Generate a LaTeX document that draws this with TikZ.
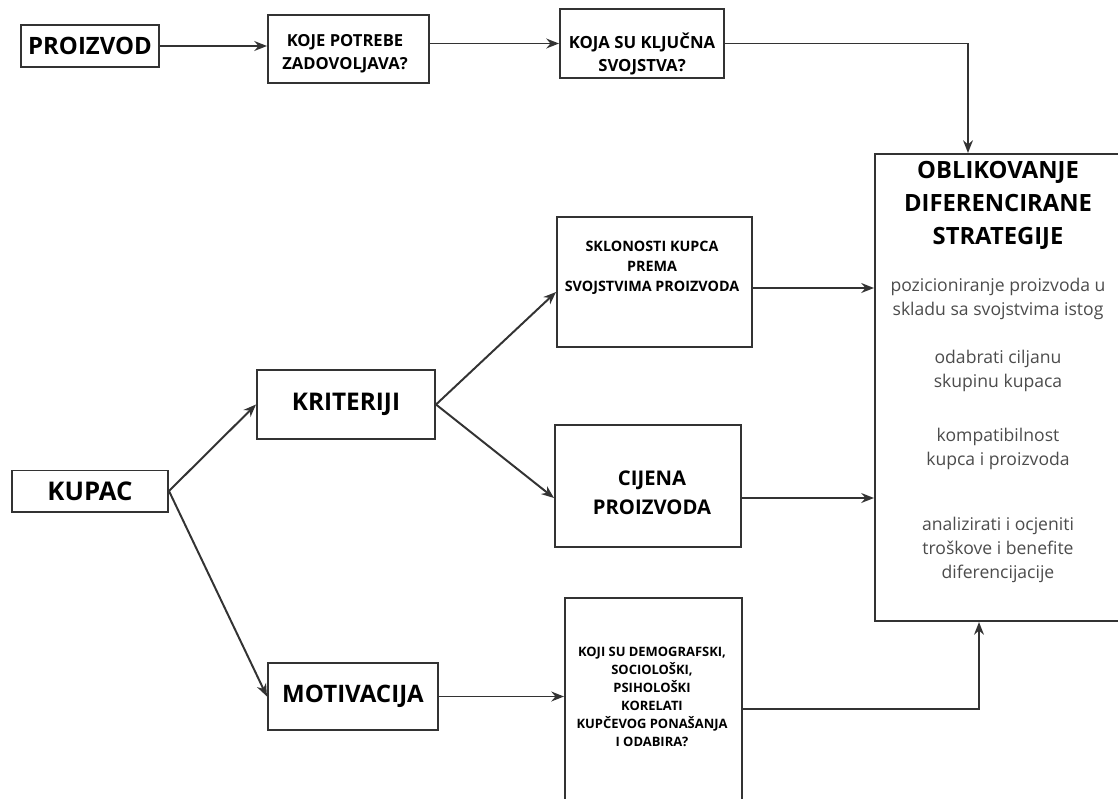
\documentclass[tikz,border=0pt]{standalone}
\usepackage{fontspec}
\setmainfont{Open Sans}
\usetikzlibrary{arrows.meta}

\tikzset{
  box/.style={draw=black!80, line width=1.4pt, fill=white, inner sep=0pt, align=center},
  hdr/.style={font=\bfseries, align=center, inner sep=0pt},
  txt/.style={font=\fontsize{12.5}{17}\selectfont, text=black!70, align=center, inner sep=0pt},
  link/.style={draw=black!80, line width=1.4pt, -{Stealth[length=9pt,width=7pt]}},
}

\begin{document}
\begin{tikzpicture}[x=0.025cm, y=-0.025cm]
    \useasboundingbox (0,0) rectangle (1118,798);
    \clip (0,0) rectangle (1118,798);
    % Boxes
    \node[box, hdr, minimum width=3.45cm, minimum height=1.05cm,
          font=\fontsize{17}{20}\selectfont\bfseries] (proizvod) at (90,46) {PROIZVOD};
    \node[box, minimum width=4.025cm, minimum height=1.7cm] (potrebe) at (348.5,49) {};
    \node[box, minimum width=4.1cm, minimum height=1.725cm] (svojstva) at (642,43.5) {};
    \node[box, minimum width=6.3cm, minimum height=11.675cm] (oblik) at (1001,387.5) {};
    \node[box, minimum width=4.875cm, minimum height=3.25cm] (sklonost) at (654.5,282) {};
    \node[box, minimum width=4.65cm, minimum height=3.05cm] (cijena) at (648,486) {};
    \node[box, minimum width=4.425cm, minimum height=5.1cm] (korelati) at (653.5,700) {};
    \node[box, hdr, minimum width=4.45cm, minimum height=1.725cm,
          font=\fontsize{17.3}{20}\selectfont\bfseries] (kriteriji) at (346,404.5) {KRITERIJI};
    \node[box, hdr, minimum width=3.9cm, minimum height=1.025cm,
          font=\fontsize{18.3}{20}\selectfont\bfseries] (kupac) at (90,491) {KUPAC};
    \node[box, hdr, minimum width=4.25cm, minimum height=1.675cm,
          font=\fontsize{17.1}{20}\selectfont\bfseries] (motivacija) at (353,696.5) {MOTIVACIJA};
    % Texts
    \node[hdr, font=\fontsize{11.8}{16.4}\selectfont\bfseries] (potrebetxt) at (345,53.5) {KOJE POTREBE\\ZADOVOLJAVA?};
    \node[hdr, font=\fontsize{11.9}{16.4}\selectfont\bfseries] (svojstvatxt) at (642,53.5) {KOJA SU KLJUČNA\\SVOJSTVA?};
    \node[hdr, font=\fontsize{10.2}{14.2}\selectfont\bfseries] (sklonosttxt) at (652,268) {SKLONOSTI KUPCA\\PREMA\\SVOJSTVIMA PROIZVODA};
    \node[hdr, font=\fontsize{14.4}{20.6}\selectfont\bfseries] (cijenatxt) at (652,492.5) {CIJENA\\PROIZVODA};
    \node[hdr, font=\fontsize{9.2}{12.8}\selectfont\bfseries] (korelatitxt) at (652,697) {KOJI SU DEMOGRAFSKI,\\SOCIOLOŠKI,\\PSIHOLOŠKI\\KORELATI\\KUPČEVOG PONAŠANJA\\I ODABIRA?};
    \node[hdr, font=\fontsize{16.9}{23.5}\selectfont\bfseries] (obliktxt) at (998,205) {OBLIKOVANJE\\DIFERENCIRANE\\STRATEGIJE};
    \node[txt] (pozicija) at (998,299) {pozicioniranje proizvoda u\\skladu sa svojstvima istog};
    \node[txt] (ciljana) at (998,371) {odabrati ciljanu\\skupinu kupaca};
    \node[txt] (kompat) at (998,449) {kompatibilnost\\kupca i proizvoda};
    \node[txt] (troskovi) at (998,550) {analizirati i ocjeniti\\troškove i benefite\\diferencijacije};
    % Connectors
    \draw[link] (proizvod.east) -- (proizvod.east -| potrebe.west);
    \draw[link] (potrebe.east |- svojstva.west) -- (svojstva.west);
    \draw[link] (svojstva.east) -| ([xshift=-0.825cm]oblik.north);
    \draw[link] (kupac.east) -- (kriteriji.west);
    \draw[link] (kupac.east) -- (motivacija.west);
    \draw[link] (kriteriji.east) -- ([yshift=-0.25cm]sklonost.west);
    \draw[link] (kriteriji.east) -- ([yshift=-0.3cm]cijena.west);
    \draw[link] ([yshift=-0.15cm]sklonost.east) -- ([yshift=-0.15cm]sklonost.east -| oblik.west);
    \draw[link] ([yshift=-0.3cm]cijena.east) -- ([yshift=-0.3cm]cijena.east -| oblik.west);
    \draw[link] (motivacija.east) -- (motivacija.east -| korelati.west);
    \draw[link] ([yshift=-0.225cm]korelati.east) -| ([xshift=-0.55cm]oblik.south);
\end{tikzpicture}
\end{document}
